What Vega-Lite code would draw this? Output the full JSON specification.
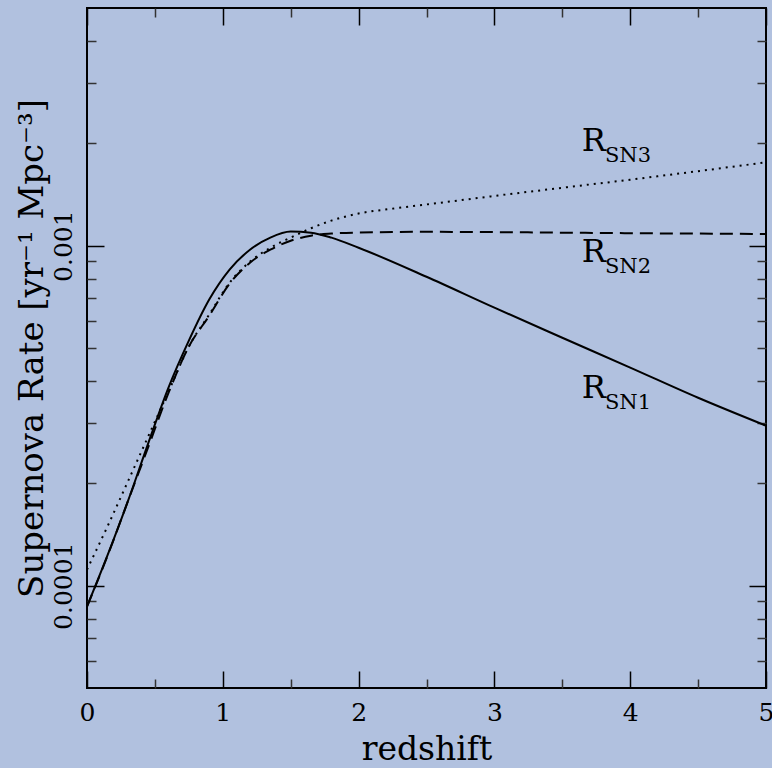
{
  "$schema": "https://vega.github.io/schema/vega-lite/v6.json",
  "width": 679,
  "height": 680,
  "autosize": {"type": "none"},
  "padding": {"left": 87, "top": 8, "right": 6, "bottom": 80},
  "background": "#b1c1df",
  "config": {
    "view": {"stroke": "black", "strokeWidth": 2},
    "axis": {
      "grid": false,
      "domain": false,
      "labelFont": "DejaVu Serif",
      "titleFont": "DejaVu Serif",
      "labelColor": "black",
      "titleColor": "black",
      "titleFontWeight": "normal",
      "tickColor": "black"
    }
  },
  "datasets": {
    "sn1": [
      {"z": 0, "rate": 0.0000868},
      {"z": 0.15, "rate": 0.0001225},
      {"z": 0.3, "rate": 0.0001766},
      {"z": 0.45, "rate": 0.0002616},
      {"z": 0.6, "rate": 0.0003823},
      {"z": 0.75, "rate": 0.0005255},
      {"z": 0.9, "rate": 0.000694},
      {"z": 1.05, "rate": 0.00085},
      {"z": 1.2, "rate": 0.000973},
      {"z": 1.35, "rate": 0.001056},
      {"z": 1.5, "rate": 0.0011},
      {"z": 1.65, "rate": 0.001092},
      {"z": 1.8, "rate": 0.001056},
      {"z": 2.0, "rate": 0.000986},
      {"z": 2.5, "rate": 0.00081},
      {"z": 3.0, "rate": 0.000657},
      {"z": 3.5, "rate": 0.000536},
      {"z": 4.0, "rate": 0.000438},
      {"z": 4.5, "rate": 0.000357},
      {"z": 5.0, "rate": 0.0002955}
    ],
    "sn2": [
      {"z": 0, "rate": 0.0000868},
      {"z": 0.15, "rate": 0.000122},
      {"z": 0.3, "rate": 0.0001766},
      {"z": 0.45, "rate": 0.000255},
      {"z": 0.6, "rate": 0.000369},
      {"z": 0.75, "rate": 0.000505},
      {"z": 0.9, "rate": 0.000622},
      {"z": 1.05, "rate": 0.000773},
      {"z": 1.2, "rate": 0.000891},
      {"z": 1.35, "rate": 0.000973},
      {"z": 1.5, "rate": 0.001034},
      {"z": 1.65, "rate": 0.00107},
      {"z": 1.8, "rate": 0.001085},
      {"z": 2.0, "rate": 0.001093},
      {"z": 2.5, "rate": 0.001098},
      {"z": 3.0, "rate": 0.001096},
      {"z": 3.5, "rate": 0.001092},
      {"z": 4.0, "rate": 0.001088},
      {"z": 4.5, "rate": 0.001085},
      {"z": 5.0, "rate": 0.001082}
    ],
    "sn3": [
      {"z": 0, "rate": 0.0001115},
      {"z": 0.15, "rate": 0.0001491},
      {"z": 0.3, "rate": 0.000202},
      {"z": 0.45, "rate": 0.0002743},
      {"z": 0.6, "rate": 0.000372},
      {"z": 0.75, "rate": 0.000505},
      {"z": 0.9, "rate": 0.000627},
      {"z": 1.05, "rate": 0.000778},
      {"z": 1.2, "rate": 0.000897},
      {"z": 1.35, "rate": 0.000986},
      {"z": 1.5, "rate": 0.001056},
      {"z": 1.65, "rate": 0.001125},
      {"z": 1.8, "rate": 0.001185},
      {"z": 2.0, "rate": 0.001243},
      {"z": 2.25, "rate": 0.001285},
      {"z": 2.5, "rate": 0.001322},
      {"z": 3.0, "rate": 0.0014},
      {"z": 3.5, "rate": 0.00148},
      {"z": 4.0, "rate": 0.001563},
      {"z": 4.5, "rate": 0.001656},
      {"z": 5.0, "rate": 0.001758}
    ],
    "labR": [
      {"z": 3.643, "rate": 0.001894, "label": "R"},
      {"z": 3.643, "rate": 0.0008956, "label": "R"},
      {"z": 3.643, "rate": 0.0003565, "label": "R"}
    ],
    "labSub": [
      {"z": 3.814, "rate": 0.001758, "label": "SN3"},
      {"z": 3.814, "rate": 0.000831, "label": "SN2"},
      {"z": 3.814, "rate": 0.00033, "label": "SN1"}
    ]
  },
  "resolve": {"axis": {"x": "independent", "y": "independent"}},
  "layer": [
    {
      "data": {"name": "sn1"},
      "mark": {"type": "line", "color": "black", "strokeWidth": 2, "interpolate": "monotone"},
      "encoding": {
        "x": {
          "field": "z", "type": "quantitative",
          "scale": {"domain": [0, 5], "nice": false, "zero": false},
          "axis": {"orient": "bottom", "values": [0, 1, 2, 3, 4, 5], "ticks": false, "labelFontSize": 25, "labelPadding": 12, "labelBaseline": "top", "labelFlush": false, "labelOverlap": false, "title": "redshift", "titleFontSize": 33, "titlePadding": 8}
        },
        "y": {
          "field": "rate", "type": "quantitative",
          "scale": {"type": "log", "domain": [0.00005, 0.005], "nice": false},
          "axis": {"orient": "left", "values": [0.0001, 0.001], "format": "~g", "ticks": false, "labelAngle": -90, "labelAlign": "center", "labelBaseline": "alphabetic", "labelFontSize": 25, "labelPadding": 16, "labelOverlap": false, "title": "Supernova Rate [yr⁻¹ Mpc⁻³]", "titleFontSize": 34, "titlePadding": 2}
        }
      }
    },
    {
      "data": {"name": "sn2"},
      "mark": {"type": "line", "color": "black", "strokeWidth": 2, "strokeDash": [13, 7], "interpolate": "monotone"},
      "encoding": {
        "x": {
          "field": "z", "type": "quantitative",
          "scale": {"domain": [0, 5], "nice": false, "zero": false},
          "axis": {"orient": "bottom", "values": [0, 1, 2, 3, 4, 5], "labels": false, "tickSize": -17, "tickWidth": 1.5, "title": null}
        },
        "y": {
          "field": "rate", "type": "quantitative",
          "scale": {"type": "log", "domain": [0.00005, 0.005], "nice": false},
          "axis": {"orient": "left", "values": [0.0001, 0.001], "labels": false, "tickSize": -17, "tickWidth": 1.5, "title": null}
        }
      }
    },
    {
      "data": {"name": "sn3"},
      "mark": {"type": "line", "color": "black", "strokeWidth": 2, "strokeDash": [2, 5], "interpolate": "monotone"},
      "encoding": {
        "x": {
          "field": "z", "type": "quantitative",
          "scale": {"domain": [0, 5], "nice": false, "zero": false},
          "axis": {"orient": "bottom", "values": [0.5, 1.5, 2.5, 3.5, 4.5], "labels": false, "tickSize": -9, "tickWidth": 1.5, "tickColor": "#333333", "title": null}
        },
        "y": {
          "field": "rate", "type": "quantitative",
          "scale": {"type": "log", "domain": [0.00005, 0.005], "nice": false},
          "axis": {"orient": "left", "values": [0.00006, 0.00007, 0.00008, 0.00009, 0.0002, 0.0003, 0.0004, 0.0005, 0.0006, 0.0007, 0.0008, 0.0009, 0.002, 0.003, 0.004], "labels": false, "tickSize": -9, "tickWidth": 1.5, "tickColor": "#333333", "title": null}
        }
      }
    },
    {
      "data": {"name": "labR"},
      "mark": {"type": "text", "font": "DejaVu Serif", "fontSize": 32, "align": "left", "baseline": "alphabetic", "color": "black"},
      "encoding": {
        "x": {
          "field": "z", "type": "quantitative",
          "scale": {"domain": [0, 5], "nice": false, "zero": false},
          "axis": {"orient": "top", "values": [0, 1, 2, 3, 4, 5], "labels": false, "tickSize": -17, "tickWidth": 1.5, "title": null}
        },
        "y": {
          "field": "rate", "type": "quantitative",
          "scale": {"type": "log", "domain": [0.00005, 0.005], "nice": false},
          "axis": {"orient": "right", "values": [0.0001, 0.001], "labels": false, "tickSize": -17, "tickWidth": 1.5, "title": null}
        },
        "text": {"field": "label"}
      }
    },
    {
      "data": {"name": "labSub"},
      "mark": {"type": "text", "font": "DejaVu Serif", "fontSize": 21, "align": "left", "baseline": "alphabetic", "color": "black"},
      "encoding": {
        "x": {
          "field": "z", "type": "quantitative",
          "scale": {"domain": [0, 5], "nice": false, "zero": false},
          "axis": {"orient": "top", "values": [0.5, 1.5, 2.5, 3.5, 4.5], "labels": false, "tickSize": -9, "tickWidth": 1.5, "tickColor": "#333333", "title": null}
        },
        "y": {
          "field": "rate", "type": "quantitative",
          "scale": {"type": "log", "domain": [0.00005, 0.005], "nice": false},
          "axis": {"orient": "right", "values": [0.00006, 0.00007, 0.00008, 0.00009, 0.0002, 0.0003, 0.0004, 0.0005, 0.0006, 0.0007, 0.0008, 0.0009, 0.002, 0.003, 0.004], "labels": false, "tickSize": -9, "tickWidth": 1.5, "tickColor": "#333333", "title": null}
        },
        "text": {"field": "label"}
      }
    }
  ]
}
